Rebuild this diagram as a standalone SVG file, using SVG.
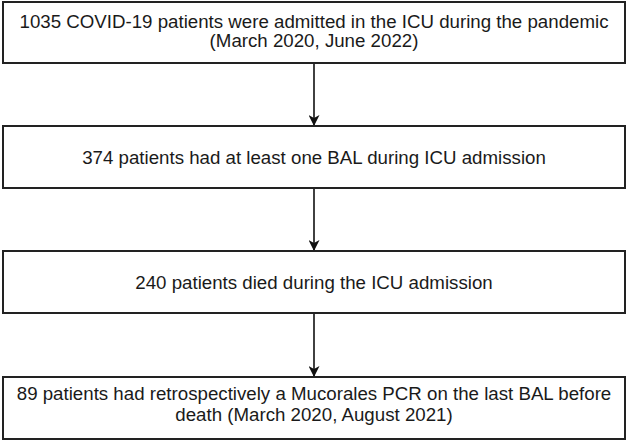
<svg xmlns="http://www.w3.org/2000/svg" width="628" height="441" viewBox="0 0 628 441">
<defs>
<style>
.box{fill:#fff;stroke:#222;stroke-width:2}
.t{font-family:"Liberation Sans",Arial,sans-serif;font-size:18.7px;fill:#1a1a1a;text-anchor:middle}
.c{stroke:#111;stroke-width:1.6;fill:none}
</style>
<marker id="ah" markerWidth="11" markerHeight="11" refX="10" refY="5.5" orient="auto" markerUnits="userSpaceOnUse">
<path d="M0,0 L11,5.5 L0,11 L3,5.5 Z" fill="#111"/>
</marker>
</defs>
<rect width="628" height="441" fill="#fff"/>
<g id="connectors">
<line class="c" x1="314" y1="63" x2="314" y2="125" marker-end="url(#ah)"/>
<line class="c" x1="314" y1="188" x2="314" y2="250" marker-end="url(#ah)"/>
<line class="c" x1="314" y1="313" x2="314" y2="376" marker-end="url(#ah)"/>
</g>
<g id="n1">
<rect class="box" x="3" y="2" width="622" height="61"/>
<text class="t" x="314" y="28">1035 COVID-19 patients were admitted in the ICU during the pandemic</text>
<text class="t" x="314" y="47">(March 2020, June 2022)</text>
</g>
<g id="n2">
<rect class="box" x="3" y="126" width="622" height="62"/>
<text class="t" x="314" y="164">374 patients had at least one BAL during ICU admission</text>
</g>
<g id="n3">
<rect class="box" x="3" y="251" width="622" height="62"/>
<text class="t" x="314" y="289">240 patients died during the ICU admission</text>
</g>
<g id="n4">
<rect class="box" x="3" y="377" width="622" height="62"/>
<text class="t" x="314" y="400">89 patients had retrospectively a Mucorales PCR on the last BAL before</text>
<text class="t" x="314" y="421">death (March 2020, August 2021)</text>
</g>
</svg>
